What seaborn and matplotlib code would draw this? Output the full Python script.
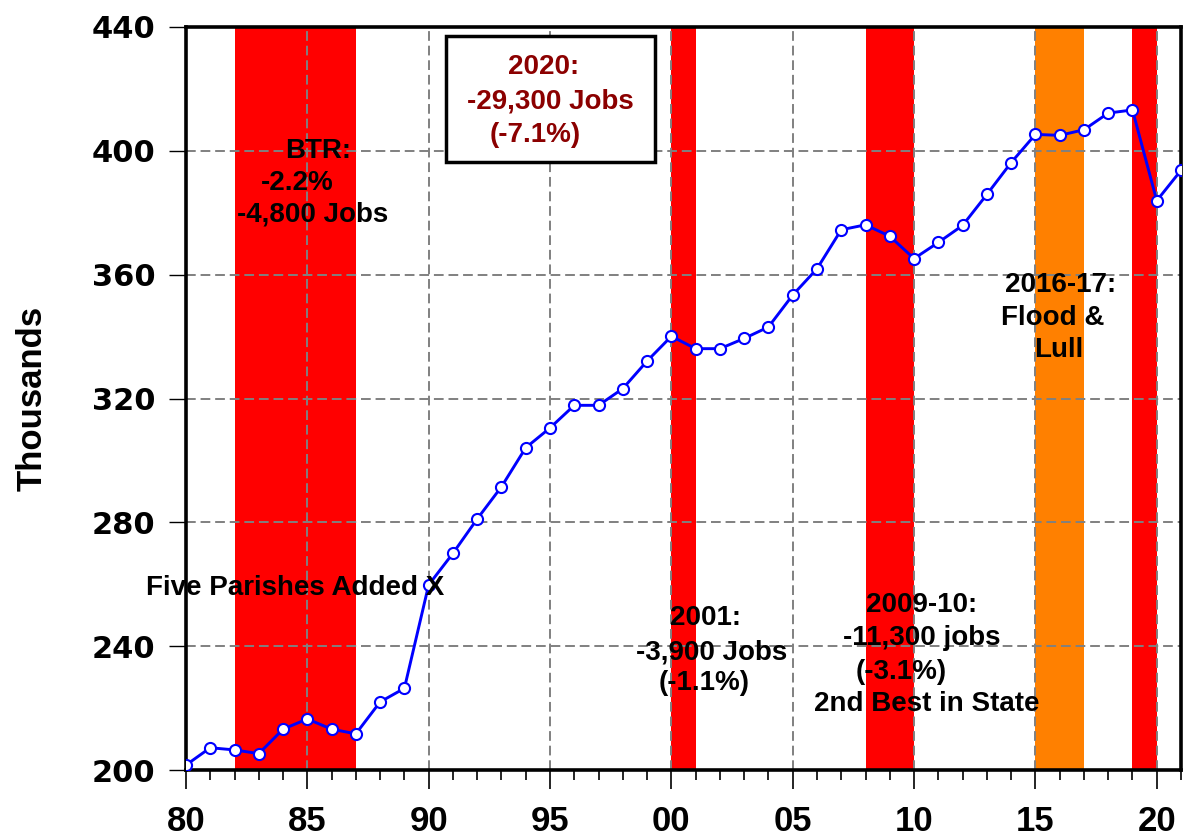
import matplotlib
matplotlib.use("Agg")
import matplotlib.pyplot as plt
from matplotlib.patches import Rectangle
from matplotlib.ticker import MultipleLocator, FixedLocator
import seaborn as sns
import pandas as pd

years = list(range(1980, 2022))
jobs = [201.6, 207.2, 206.5, 205.3, 213.2, 216.5, 213.2, 211.7, 222.0, 226.4,
        259.8, 270.0, 281.1, 291.5, 304.1, 310.5, 317.8, 317.8, 323.2, 332.1,
        340.1, 336.1, 336.1, 339.4, 343.1, 353.4, 361.9, 374.5, 376.1, 372.4,
        365.2, 370.4, 375.9, 385.9, 396.2, 405.3, 405.0, 406.8, 412.2, 413.2,
        383.9, 393.7]

recessions = [(1982, 1987), (2000, 2001), (2008, 2010), (2019, 2020)]
flood = [(2015, 2017)]

x_tick_years = [1980, 1985, 1990, 1995, 2000, 2005, 2010, 2015, 2020]
x_tick_labels = ["80", "85", "90", "95", "00", "05", "10", "15", "20"]
y_ticks = [200, 240, 280, 320, 360, 400, 440]

df = pd.DataFrame({"year": years, "jobs": jobs})

sns.set_theme(style="white")
plt.rcParams["font.family"] = ["Liberation Sans", "DejaVu Sans"]
plt.rcParams["font.weight"] = "bold"
plt.rcParams["text.color"] = "black"
plt.rcParams["axes.labelcolor"] = "black"
plt.rcParams["xtick.color"] = "black"
plt.rcParams["ytick.color"] = "black"

fig = plt.figure(figsize=(11.86, 8.38), dpi=100)
ax = fig.add_axes([0.1568, 0.0811, 0.8390, 0.8867])

for a, b in recessions:
    ax.axvspan(a, b, color="#FF0000", lw=0, zorder=0.1)
for a, b in flood:
    ax.axvspan(a, b, color="#FF8000", lw=0, zorder=0.1)

sns.lineplot(data=df, x="year", y="jobs", ax=ax, color="#0000FF", linewidth=2.1,
             marker="o", markersize=8, markerfacecolor="white",
             markeredgecolor="#0000FF", markeredgewidth=1.5, zorder=4)

ax.set_xlim(1980, 2021)
ax.set_ylim(200, 440)
ax.xaxis.set_major_locator(FixedLocator(x_tick_years))
ax.set_xticklabels(x_tick_labels)
ax.xaxis.set_minor_locator(MultipleLocator(1))
ax.set_yticks(y_ticks)
ax.set_yticklabels([str(v) for v in y_ticks])

ax.set_axisbelow(True)
ax.grid(True, which="major", color="#808080", linestyle=(0, (5, 2.5)), linewidth=1.4)

for s in ax.spines.values():
    s.set_color("black")
    s.set_linewidth(2.6)
    s.set_visible(True)

ax.tick_params(axis="x", which="major", direction="out", length=14, width=1.2,
               color="black", labelcolor="black", labelsize=25, pad=11, bottom=True)
ax.tick_params(axis="x", which="minor", direction="out", length=7, width=1.2,
               color="black", bottom=True)
ax.tick_params(axis="y", which="major", direction="out", length=12, width=1.0,
               color="black", labelcolor="black", labelsize=22, pad=10, left=True)
for lab in ax.get_xticklabels():
    lab.set_fontweight("bold")
for lab in ax.get_yticklabels():
    lab.set_fontweight("bold")
    lab.set_family(["DejaVu Sans"])

ax.set_xlabel("")
ax.set_ylabel("Thousands", fontsize=25, fontweight="bold", color="black")
ax.yaxis.set_label_coords(-0.138, 0.5)

fs = 20
def txt(x, y, s, color="black"):
    ax.text(x, y, s, ha="center", va="center", fontsize=fs, fontweight="bold",
            color=color, zorder=6)

txt(1984.49, 258.8, "Five Parishes Added X")
txt(1985.44, 400.0, "BTR:")
txt(1984.58, 389.6, "-2.2%")
txt(1985.20, 379.3, "-4,800 Jobs")

ax.add_patch(Rectangle((1990.70, 396.4), 1999.34 - 1990.70, 437.1 - 396.4,
                       facecolor="white", edgecolor="black", linewidth=2.5, zorder=5))
txt(1994.72, 427.1, "2020:", "#8B0000")
txt(1995.01, 415.8, "-29,300 Jobs", "#8B0000")
txt(1994.39, 405.1, "(-7.1%)", "#8B0000")

txt(2001.40, 249.1, "2001:")
txt(2001.65, 238.1, "-3,900 Jobs")
txt(2001.36, 228.1, "(-1.1%)")

txt(2010.31, 253.3, "2009-10:")
txt(2010.31, 242.6, "-11,300 jobs")
txt(2009.48, 231.7, "(-3.1%)")
txt(2010.52, 221.3, "2nd Best in State")

txt(2016.04, 356.7, "2016-17:")
txt(2015.71, 346.0, "Flood &")
txt(2015.96, 335.7, "Lull")

fig.savefig("out.png", dpi=100)
